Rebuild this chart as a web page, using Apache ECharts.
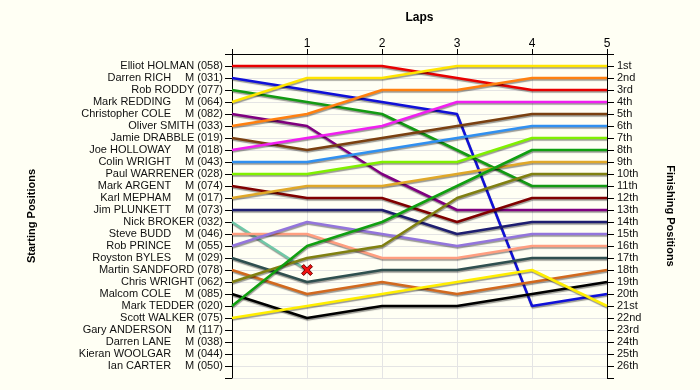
<!DOCTYPE html>
<html><head><meta charset="utf-8">
<script src="https://cdn.jsdelivr.net/npm/echarts@6/dist/echarts.min.js"></script>
<style>html,body{margin:0;padding:0;background:#fffff4}#c{width:700px;height:390px}</style>
</head><body><div id="c"></div>
<script>
const laps = [0, 1, 2, 3, 4, 5];
const lapLabels = ['', '1', '2', '3', '4', '5'];
const driverNames = ["Elliot HOLMAN","Darren RICH","Rob RODDY","Mark REDDING","Christopher COLE","Oliver SMITH","Jamie DRABBLE","Joe HOLLOWAY","Colin WRIGHT","Paul WARRENER","Mark ARGENT","Karl MEPHAM","Jim PLUNKETT","Nick BROKER","Steve BUDD","Rob PRINCE","Royston BYLES","Martin SANDFORD","Chris WRIGHT","Malcom COLE","Mark TEDDER","Scott WALKER","Gary ANDERSON","Darren LANE","Kieran WOOLGAR","Ian CARTER"];
const driverM = [false,true,false,true,true,false,false,true,true,false,true,true,true,false,true,true,true,false,false,true,false,false,true,true,true,true];
const driverNumbers = ["058","031","077","064","082","033","019","018","043","028","074","017","073","032","046","055","029","078","062","085","020","075","117","038","044","050"];
const finishLabels = ["1st","2nd","3rd","4th","5th","6th","7th","8th","9th","10th","11th","12th","13th","14th","15th","16th","17th","18th","19th","20th","21st","22nd","23rd","24th","25th","26th"];
// positions at laps 0..5 (shorter list = no longer running)
const positions = [
  [1,1,1,2,3,3],
  [2,3,4,5,21,20],
  [3,4,5,8,11,11],
  [4,2,2,1,1,1],
  [5,6,10,13,13,13],
  [6,5,3,3,2,2],
  [7,8,7,6,5,5],
  [8,7,6,4,4,4],
  [9,9,8,7,6,6],
  [10,10,9,9,7,7],
  [11,12,12,14,12,12],
  [12,11,11,10,9,9],
  [13,13,13,15,14,14],
  [14,18],
  [15,15,17,17,16,16],
  [16,14,15,16,15,15],
  [17,19,18,18,17,17],
  [18,20,19,20,19,18],
  [19,17,16,12,10,10],
  [20,22,21,21,20,19],
  [21,16,14,11,8,8],
  [22,21,20,19,18,21]
];
const retired = [false,false,false,false,false,false,false,false,false,false,false,false,false,true,false,false,false,false,false,false,false,false];
const lineColors = ['#e80000','#1010d8','#139a13','#ffe400','#800080','#ff8010','#7a4010','#f020f0','#3090f0','#80f000','#800000','#e0a828','#1e1e70','#70c8a8','#ff9e80','#9375dc','#2f4f4f','#d2691e','#808010','#000000','#10a010','#ffee00'];

const leftLabels = driverNames.map((n, i) => driverM[i]
  ? '{n|' + n + '}{m|M (' + driverNumbers[i] + ')}'
  : '{c|' + n + ' (' + driverNumbers[i] + ')}');

const X_PATH = 'path://M2,0 L5,3 L8,0 L10,2 L7,5 L10,8 L8,10 L5,7 L2,10 L0,8 L3,5 L0,2 Z';

const series = positions.map((p, i) => ({
  type: 'line',
  name: driverNames[i],
  data: p.map((v, k) => {
    const pt = { value: [laps[k], v] };
    if (retired[i]) {
      if (k === p.length - 1) {
        pt.symbol = X_PATH; pt.symbolSize = 11;
        pt.itemStyle = { color: '#f01010', borderColor: '#700000', borderWidth: 1 };
      } else {
        pt.symbol = 'none';
      }
    }
    return pt;
  }),
  showSymbol: retired[i],
  symbol: 'none',
  lineStyle: { width: 2.5, color: lineColors[i], shadowColor: 'rgba(0,0,0,0.4)', shadowOffsetY: 1.5, shadowOffsetX: 0.5, shadowBlur: 1 },
  itemStyle: { color: lineColors[i] },
  emphasis: { disabled: true },
  animation: false,
  z: 3
}));

const fontFam = 'Liberation Sans, Arial, sans-serif';
const chart = echarts.init(document.getElementById('c'), null, { renderer: 'canvas' });
chart.setOption({
  backgroundColor: '#fffff4',
  animation: false,
  grid: { left: 232, right: 93, top: 54, bottom: 12 },
  xAxis: {
    type: 'value', position: 'top', min: 0, max: 5, interval: 1,
    name: 'Laps', nameLocation: 'middle', nameGap: 30,
    nameTextStyle: { fontWeight: 'bold', fontSize: 12, color: '#000', fontFamily: fontFam },
    axisLine: { show: true, lineStyle: { color: '#000', width: 1 } },
    axisTick: { show: true, length: 5, lineStyle: { color: '#000' } },
    axisLabel: { formatter: v => lapLabels[v] || '', color: '#000', fontSize: 12, fontFamily: fontFam, margin: 4 },
    splitLine: { show: true, lineStyle: { color: '#e4e4e4', width: 1 } }
  },
  yAxis: [{
    type: 'value', position: 'left', min: 0, max: 27, interval: 1, inverse: true,
    name: 'Starting Positions', nameLocation: 'middle', nameGap: 195, nameRotate: 90,
    nameTextStyle: { fontWeight: 'bold', fontSize: 11, color: '#000', fontFamily: fontFam },
    axisLine: { show: true, lineStyle: { color: '#000', width: 1 } },
    axisTick: { show: true, length: 7, lineStyle: { color: '#000' } },
    axisLabel: {
      formatter: v => (v >= 1 && v <= 26) ? leftLabels[v - 1] : '',
      margin: 9, fontSize: 11, color: '#111', fontFamily: fontFam,
      rich: {
        n: { fontSize: 11, color: '#111', fontFamily: fontFam, padding: [0, 14, 0, 0] },
        m: { fontSize: 11, color: '#111', fontFamily: fontFam },
        c: { fontSize: 11, color: '#111', fontFamily: fontFam }
      }
    },
    splitLine: { show: true, lineStyle: { color: '#e4e4e4', width: 1 } }
  }, {
    type: 'value', position: 'right', min: 0, max: 27, interval: 1, inverse: true,
    name: 'Finishing Positions', nameLocation: 'middle', nameGap: 58, nameRotate: -90,
    nameTextStyle: { fontWeight: 'bold', fontSize: 11, color: '#000', fontFamily: fontFam },
    axisLine: { show: true, lineStyle: { color: '#000', width: 1 } },
    axisTick: { show: true, length: 7, lineStyle: { color: '#000' } },
    axisLabel: {
      formatter: v => (v >= 1 && v <= 26) ? finishLabels[v - 1] : '',
      margin: 10, fontSize: 11, color: '#111', fontFamily: fontFam
    },
    splitLine: { show: false }
  }],
  series: series
});
</script>
</body></html>
